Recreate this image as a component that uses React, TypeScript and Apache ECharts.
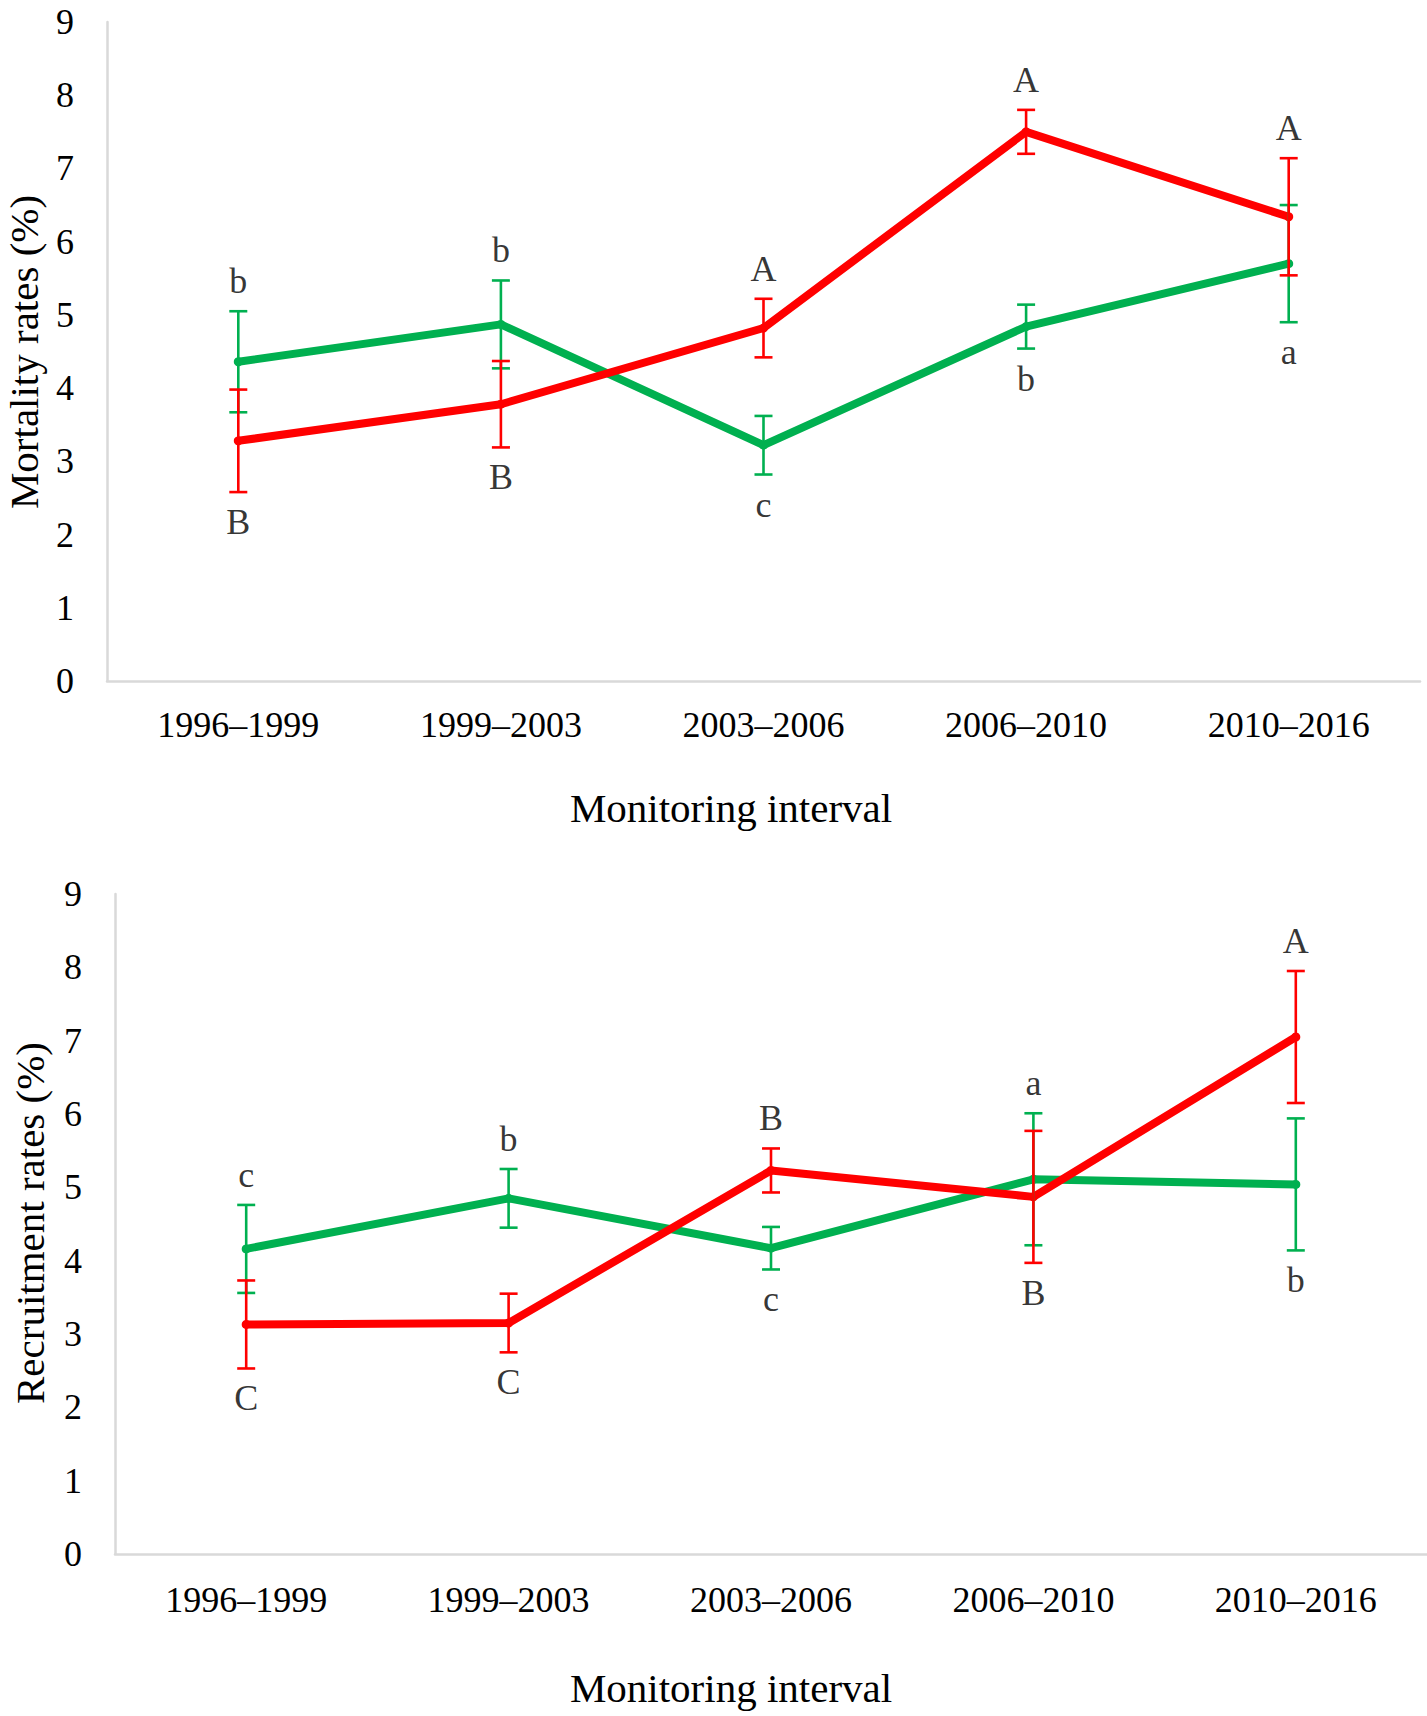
import React, { useEffect, useRef } from "react";
import * as echarts from "echarts";

const categories = ["1996–1999", "1999–2003", "2003–2006", "2006–2010", "2010–2016"];

// Mortality (top panel)
const mortGreen = [4.36, 4.87, 3.22, 4.84, 5.7];
const mortGreenErr = [0.69, 0.6, 0.4, 0.3, 0.8];
const mortRed = [3.28, 3.78, 4.82, 7.5, 6.34];
const mortRedErr = [0.7, 0.59, 0.4, 0.3, 0.8];
const mortGreenLetters = ["b", "b", "c", "b", "a"];
const mortGreenSide = ["top", "top", "bottom", "bottom", "bottom"];
const mortRedLetters = ["B", "B", "A", "A", "A"];
const mortRedSide = ["bottom", "bottom", "top", "top", "top"];

// Recruitment (bottom panel)
const recGreen = [4.16, 4.85, 4.17, 5.11, 5.04];
const recGreenErr = [0.6, 0.4, 0.29, 0.9, 0.9];
const recRed = [3.13, 3.15, 5.23, 4.87, 7.05];
const recRedErr = [0.6, 0.4, 0.3, 0.9, 0.9];
const recGreenLetters = ["c", "b", "c", "a", "b"];
const recGreenSide = ["top", "top", "bottom", "top", "bottom"];
const recRedLetters = ["C", "C", "B", "B", "A"];
const recRedSide = ["bottom", "bottom", "top", "bottom", "top"];

const yMin = 0;
const yMax = 9;
const yInterval = 1;

const GREEN = "#00B050";
const RED = "#FF0000";
const AXIS = "#D9D9D9";
const FONT = "Liberation Serif";

function lineSeries(vals: number[], color: string, idx: number) {
  return {
    type: "line",
    xAxisIndex: idx,
    yAxisIndex: idx,
    data: vals,
    symbol: "circle",
    symbolSize: 9,
    showSymbol: true,
    itemStyle: { color },
    lineStyle: { color, width: 8, cap: "round", join: "round" },
    z: 3,
  };
}

function errSeries(vals: number[], errs: number[], color: string, idx: number) {
  return {
    type: "custom",
    xAxisIndex: idx,
    yAxisIndex: idx,
    data: vals.map((v, i) => [i, v - errs[i], v + errs[i]]),
    encode: { x: 0, y: [1, 2] },
    z: 4,
    renderItem: (params: any, api: any) => {
      const i = api.value(0);
      const lo = api.coord([i, api.value(1)]);
      const hi = api.coord([i, api.value(2)]);
      const w = 9;
      const st = { stroke: color, lineWidth: 2.6 };
      return {
        type: "group",
        children: [
          { type: "line", shape: { x1: lo[0], y1: lo[1], x2: hi[0], y2: hi[1] }, style: st },
          { type: "line", shape: { x1: hi[0] - w, y1: hi[1], x2: hi[0] + w, y2: hi[1] }, style: st },
          { type: "line", shape: { x1: lo[0] - w, y1: lo[1], x2: lo[0] + w, y2: lo[1] }, style: st },
        ],
      };
    },
  };
}

function letterSeries(vals: number[], errs: number[], letters: string[], sides: string[], idx: number) {
  return {
    type: "scatter",
    xAxisIndex: idx,
    yAxisIndex: idx,
    symbolSize: 0,
    silent: true,
    z: 5,
    itemStyle: { color: "rgba(0,0,0,0)" },
    data: letters.map((l, i) => ({
      value: [i, sides[i] === "top" ? vals[i] + errs[i] : vals[i] - errs[i]],
      label: {
        show: true,
        position: sides[i],
        distance: 12,
        formatter: l,
        fontSize: 36,
        fontFamily: FONT,
        color: "#000",
      },
    })),
  };
}

function xAxisDef(gridIndex: number, margin: number) {
  return {
    type: "category",
    gridIndex,
    data: categories,
    boundaryGap: true,
    axisTick: { show: false },
    axisLine: { show: true, lineStyle: { color: AXIS, width: 2.5 } },
    axisLabel: { fontSize: 36, fontFamily: FONT, color: "#000", margin },
    splitLine: { show: false },
  };
}

function yAxisDef(gridIndex: number) {
  return {
    type: "value",
    gridIndex,
    min: yMin,
    max: yMax,
    interval: yInterval,
    axisTick: { show: false },
    axisLine: { show: true, lineStyle: { color: AXIS, width: 2.5 } },
    axisLabel: { fontSize: 36, fontFamily: FONT, color: "#000", margin: 33 },
    splitLine: { show: false },
  };
}

function titleText(text: string, x: number, y: number, rotate: boolean) {
  return {
    type: "text",
    x,
    y,
    rotation: rotate ? Math.PI / 2 : 0,
    style: {
      text,
      fontSize: 41,
      fontFamily: FONT,
      fill: "#000",
      align: "center",
      verticalAlign: "middle",
      textAlign: "center",
      textVerticalAlign: "middle",
    },
  };
}

export default function App() {
  const ref = useRef<HTMLDivElement>(null);
  useEffect(() => {
    if (!ref.current) return;
    const chart = echarts.init(ref.current, undefined, { renderer: "svg" });
    chart.setOption({
      animation: false,
      backgroundColor: "#fff",
      grid: [
        { left: 107, right: 7, top: 22, height: 659 },
        { left: 115, right: 0, top: 894, height: 660 },
      ],
      xAxis: [xAxisDef(0, 26), xAxisDef(1, 28)],
      yAxis: [yAxisDef(0), yAxisDef(1)],
      graphic: [
        titleText("Monitoring interval", 731, 808, false),
        titleText("Mortality rates (%)", 24, 352, true),
        titleText("Monitoring interval", 731, 1688, false),
        titleText("Recruitment rates (%)", 30, 1223, true),
      ],
      series: [
        lineSeries(mortGreen, GREEN, 0),
        errSeries(mortGreen, mortGreenErr, GREEN, 0),
        lineSeries(mortRed, RED, 0),
        errSeries(mortRed, mortRedErr, RED, 0),
        letterSeries(mortGreen, mortGreenErr, mortGreenLetters, mortGreenSide, 0),
        letterSeries(mortRed, mortRedErr, mortRedLetters, mortRedSide, 0),
        lineSeries(recGreen, GREEN, 1),
        errSeries(recGreen, recGreenErr, GREEN, 1),
        lineSeries(recRed, RED, 1),
        errSeries(recRed, recRedErr, RED, 1),
        letterSeries(recGreen, recGreenErr, recGreenLetters, recGreenSide, 1),
        letterSeries(recRed, recRedErr, recRedLetters, recRedSide, 1),
      ],
    });
    return () => chart.dispose();
  }, []);
  return (
    <div
      ref={ref}
      style={{ position: "absolute", left: 0, top: 0, width: 1427, height: 1716 }}
    />
  );
}
